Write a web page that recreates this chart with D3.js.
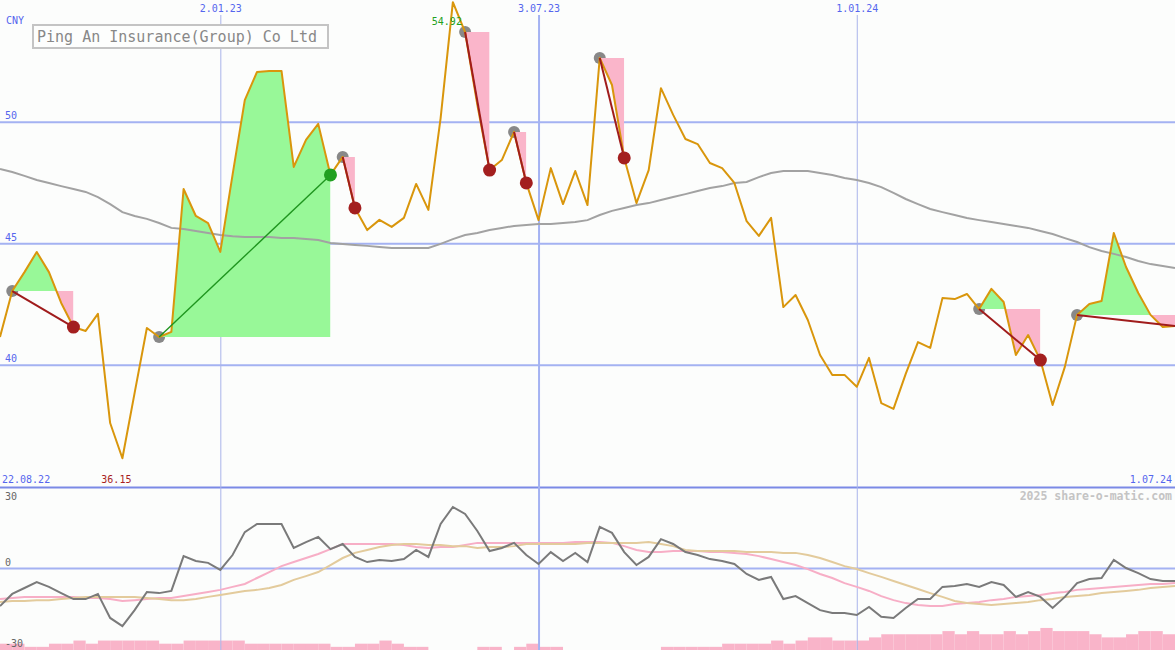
<!DOCTYPE html>
<html><head><meta charset="utf-8">
<script src="https://cdn.jsdelivr.net/npm/d3@7"></script>
<style>body{margin:0;background:#fcfdfc;}svg{display:block;}</style>
</head><body><svg id="c" width="1175" height="650"></svg>
<script>
const title = "Ping An Insurance(Group) Co Ltd";
const currency = "CNY";
const watermark = "2025 share-o-matic.com";
const dateIndex = [0, 18, 44, 70, 96];
const dateLabels = ["22.08.22", "2.01.23", "3.07.23", "1.01.24", "1.07.24"];
const priceTicks = [40, 45, 50];
const oscTicks = [30, 0, -30];

const price = [41.14,43.03,43.81,44.64,43.81,42.54,41.55,41.39,42.09,37.60,
 36.15,38.84,41.51,41.14,41.35,47.23,46.12,45.83,44.64,47.81,
 50.89,52.05,52.09,52.09,48.14,49.25,49.91,47.81,48.55,46.45,
 45.54,45.96,45.67,46.04,47.44,46.37,50.15,54.92,53.69,50.69,
 48.01,48.42,49.58,47.48,45.95,48.09,46.61,47.97,46.57,52.62,
 51.51,48.51,46.65,48.01,51.38,50.28,49.29,49.08,48.30,48.09,
 47.48,45.91,45.30,46.04,42.37,42.87,41.84,40.40,39.58,39.58,
 39.09,40.28,38.42,38.18,39.62,40.93,40.69,42.74,42.70,42.91,
 42.29,43.12,42.58,40.40,41.22,40.19,38.34,39.91,42.05,42.50,
 42.62,45.42,44.02,42.95,42.05,41.55,41.59];

const movingAvg = [48.05,47.93,47.77,47.60,47.48,47.35,47.23,47.11,46.90,46.61,
 46.28,46.12,46.00,45.83,45.63,45.58,45.50,45.42,45.34,45.29,
 45.26,45.26,45.26,45.21,45.21,45.17,45.13,45.01,44.97,44.93,
 44.89,44.84,44.80,44.80,44.80,44.80,44.97,45.17,45.34,45.42,
 45.54,45.63,45.71,45.75,45.79,45.79,45.83,45.87,45.95,46.16,
 46.33,46.45,46.57,46.65,46.78,46.90,47.02,47.15,47.27,47.35,
 47.48,47.52,47.72,47.89,47.97,47.97,47.97,47.89,47.81,47.68,
 47.60,47.48,47.31,47.07,46.82,46.61,46.41,46.28,46.16,46.04,
 45.95,45.87,45.79,45.71,45.63,45.50,45.38,45.21,45.05,44.84,
 44.68,44.56,44.43,44.27,44.14,44.06,43.98];

const oscMain = [-14.1,-9.6,-7.4,-5.2,-7.0,-9.3,-11.5,-11.5,-9.6,-18.5,
 -21.5,-15.6,-8.9,-9.3,-8.5,4.4,2.6,1.9,-0.7,4.8,
 13.3,16.3,16.3,16.3,7.4,9.6,11.5,7.0,8.9,4.1,
 2.2,3.0,2.6,3.3,6.7,4.1,16.3,22.6,20.0,13.7,
 6.3,7.4,9.3,4.8,1.5,5.9,2.6,5.6,2.2,15.2,
 13.0,5.9,1.1,4.1,10.7,8.9,5.9,4.8,3.3,2.6,
 1.5,-2.2,-4.4,-3.3,-11.5,-10.4,-13.0,-15.6,-16.7,-16.7,
 -17.4,-14.4,-18.1,-18.5,-14.8,-11.5,-11.5,-7.0,-6.7,-5.9,
 -7.0,-5.2,-6.3,-10.7,-8.9,-10.7,-14.8,-10.7,-5.6,-4.1,
 -3.7,3.0,0.0,-1.9,-4.1,-4.8,-4.8];

const oscFast = [-11.5,-11.1,-10.7,-10.7,-10.7,-10.7,-10.7,-11.1,-11.1,-11.5,
 -12.2,-11.9,-11.5,-11.1,-11.1,-10.4,-9.6,-8.9,-8.1,-7.0,
 -5.9,-3.7,-1.5,0.7,2.2,3.7,5.2,7.0,8.9,8.9,
 8.9,8.9,8.9,8.5,7.8,7.4,7.8,7.8,8.5,9.3,
 9.3,9.3,9.3,9.3,9.3,9.3,9.3,9.6,9.6,9.6,
 9.3,8.1,6.7,5.9,5.9,6.3,6.3,6.3,5.9,5.9,
 5.6,5.2,4.4,3.3,2.2,1.1,-0.4,-2.2,-3.7,-5.6,
 -7.0,-8.5,-10.4,-11.9,-13.0,-13.7,-14.1,-14.1,-13.3,-13.0,
 -12.6,-11.9,-11.5,-10.7,-10.4,-10.0,-9.3,-8.9,-8.1,-7.8,
 -7.4,-7.0,-6.7,-6.3,-5.9,-5.9,-5.6];

const oscSlow = [-12.6,-12.2,-12.2,-11.9,-11.9,-11.5,-11.1,-10.7,-10.7,-10.7,
 -10.7,-10.7,-11.1,-11.5,-11.9,-11.9,-11.5,-10.7,-10.0,-9.3,
 -8.5,-8.1,-7.4,-6.3,-4.4,-3.0,-1.5,1.1,3.7,5.6,
 6.7,7.8,8.5,8.9,8.9,8.5,8.5,8.1,8.1,7.4,
 7.8,7.8,8.1,8.9,8.9,8.9,8.9,8.9,9.3,9.3,
 9.3,9.3,9.3,9.6,8.9,8.1,6.7,6.3,6.3,6.3,
 6.3,5.9,5.9,5.9,5.6,5.6,4.8,3.7,2.2,0.7,
 -0.4,-1.9,-3.3,-4.8,-6.3,-7.8,-9.3,-10.7,-12.2,-13.0,
 -13.3,-13.7,-13.3,-13.0,-12.6,-11.9,-11.5,-10.7,-10.4,-10.0,
 -9.3,-8.9,-8.5,-8.1,-7.4,-7.0,-6.7];

const volume = [2,2,1,1,2,2,3,2,3,3,
 3,3,3,2,2,3,3,3,3,3,
 2,2,2,2,2,2,2,1,1,2,
 2,3,2,1,1,0,0,0,0,1,
 1,0,1,2,1,1,0,0,0,0,
 0,0,0,0,1,1,1,1,1,2,
 2,2,2,3,2,3,4,4,3,3,
 3,4,5,5,5,5,5,6,5,6,
 5,5,6,5,6,7,6,6,6,5,
 4,4,5,6,6,5];

const signalStart = [1, 13, 28, 38, 42, 49, 80, 88];
const signalEnd   = [6, 27, 29, 40, 43, 51, 85, 96];
const signalEndMark = [true, true, true, true, true, true, true, false];

const W = 1175, H = 650;
const mono = "DejaVu Sans Mono, monospace";
const svg = d3.select("#c");
svg.append("rect").attr("width", W).attr("height", H).attr("fill", "#fcfdfc");

const x = d3.scaleLinear().domain([0, price.length - 1]).range([0, W]);
const y = d3.scaleLinear().domain([40, 50]).range([364.7, 121.7]);
const yo = d3.scaleLinear().domain([-30, 30]).range([649, 487]);
const yv = d3.scaleLinear().domain([0, 1]).range([0, 3.15]);

// volume bars (bottom layer)
svg.append("g").selectAll("rect").data(volume).join("rect")
  .attr("x", (d, i) => x(i)).attr("width", (d, i) => x(i + 1) - x(i))
  .attr("y", d => H - yv(d)).attr("height", d => yv(d)).attr("fill", "#f9b4c9");

// horizontal grid (price)
const gy = svg.append("g").call(d3.axisRight(y).tickValues(priceTicks).tickSize(W).tickFormat(d => d));
gy.select(".domain").remove();
gy.attr("font-family", mono).attr("font-size", 10);
gy.selectAll("line").attr("stroke", "#a4b2f2").attr("stroke-width", 2);
gy.selectAll("text").attr("x", 5).attr("dy", -3).attr("text-anchor", "start").attr("fill", "#5566ee");

// lower panel grid line at 0 and separator
const go = svg.append("g").call(d3.axisRight(yo).tickValues(oscTicks).tickSize(W).tickFormat(d => d));
go.select(".domain").remove();
go.attr("font-family", mono).attr("font-size", 10);
go.selectAll("line").attr("stroke", d => d === 0 ? "#a4b2f2" : (d === 30 ? "#7b8ae6" : "none")).attr("stroke-width", 2);
go.selectAll("text").attr("x", 5).attr("dy", d => d === 30 ? 12 : -3).attr("text-anchor", "start").attr("fill", "#666");

// vertical date lines
const inner = dateIndex.slice(1, -1);
const gx = svg.append("g").attr("transform", "translate(0,15)")
  .call(d3.axisTop(x).tickValues(inner).tickSize(-(H - 15)).tickFormat(d => dateLabels[dateIndex.indexOf(d)]));
gx.select(".domain").remove();
gx.attr("font-family", mono).attr("font-size", 10);
gx.selectAll("line").attr("stroke", (d) => d === 44 ? "#a4b2f2" : "#aab4ea").attr("stroke-width", d => d === 44 ? 2 : 1);
gx.selectAll("text").attr("fill", "#5566ee").attr("y", -3);

// bottom date labels
svg.append("text").attr("x", x(dateIndex[0]) + 2).attr("y", 483).attr("font-family", mono).attr("font-size", 10)
  .attr("fill", "#5566ee").text(dateLabels[0]);
svg.append("text").attr("x", x(dateIndex[4]) - 3).attr("y", 483).attr("text-anchor", "end").attr("font-family", mono).attr("font-size", 10)
  .attr("fill", "#5566ee").text(dateLabels[4]);

// currency
svg.append("text").attr("x", 6).attr("y", 24).attr("font-family", mono).attr("font-size", 10).attr("fill", "#5566ee").text(currency);

// watermark
svg.append("text").attr("x", 1172).attr("y", 500).attr("text-anchor", "end").attr("font-family", mono)
  .attr("font-size", 11.5).attr("font-weight", "bold").attr("fill", "#c4c4c4").text(watermark);

// lower panel lines
const lo = d3.line().x((d, i) => x(i)).y(d => yo(d));
svg.append("path").datum(oscFast).attr("d", lo).attr("fill", "none").attr("stroke", "#f7aec6").attr("stroke-width", 2);
svg.append("path").datum(oscSlow).attr("d", lo).attr("fill", "none").attr("stroke", "#e3cb9c").attr("stroke-width", 2);
svg.append("path").datum(oscMain).attr("d", lo).attr("fill", "none").attr("stroke", "#7a7a7a").attr("stroke-width", 2);

// start markers (below fills)
svg.append("g").selectAll("circle").data(signalStart).join("circle")
  .attr("cx", d => x(d)).attr("cy", d => y(price[d])).attr("r", 6).attr("fill", "#888");

// fills
const defs = svg.append("defs");
signalStart.forEach((s, k) => {
  const e = signalEnd[k];
  const base = price[s];
  const idx = d3.range(s, e + 1);
  const area = d3.area().x(i => x(i)).y0(y(base)).y1(i => y(price[i]));
  defs.append("clipPath").attr("id", "gc" + k).append("rect")
    .attr("x", x(s)).attr("y", 0).attr("width", x(e) - x(s)).attr("height", y(base));
  defs.append("clipPath").attr("id", "pc" + k).append("rect")
    .attr("x", x(s)).attr("y", y(base)).attr("width", x(e) - x(s)).attr("height", 487 - y(base));
  svg.append("path").datum(idx).attr("d", area).attr("fill", "#98f898").attr("clip-path", `url(#gc${k})`);
  svg.append("path").datum(idx).attr("d", area).attr("fill", "#fab5ca").attr("clip-path", `url(#pc${k})`);
});

// moving average
const lp = d3.line().x((d, i) => x(i)).y(d => y(d));
svg.append("path").datum(movingAvg).attr("d", lp).attr("fill", "none").attr("stroke", "#a2a2a2").attr("stroke-width", 2);

// price
svg.append("path").datum(price).attr("d", lp).attr("fill", "none").attr("stroke", "#d9960c").attr("stroke-width", 2).attr("stroke-linejoin", "round");

// signal lines and end markers
signalStart.forEach((s, k) => {
  const e = signalEnd[k];
  const gain = price[e] > price[s];
  svg.append("line").attr("x1", x(s)).attr("y1", y(price[s])).attr("x2", x(e)).attr("y2", y(price[e]))
    .attr("stroke", gain ? "#1f951f" : "#a01c1c").attr("stroke-width", gain ? 1.4 : 2);
  if (signalEndMark[k]) {
    svg.append("circle").attr("cx", x(e)).attr("cy", y(price[e])).attr("r", 6.5).attr("fill", gain ? "#22a022" : "#a31f1f");
  }
});

// max / min labels
const maxI = d3.maxIndex(price), minI = d3.minIndex(price);
svg.append("text").attr("x", x(maxI) - 6).attr("y", 25).attr("text-anchor", "middle").attr("font-family", mono).attr("font-size", 10)
  .attr("fill", "#22a022").text(price[maxI].toFixed(2));
svg.append("text").attr("x", x(minI) - 6).attr("y", 483).attr("text-anchor", "middle").attr("font-family", mono).attr("font-size", 10)
  .attr("fill", "#a81e1e").text(price[minI].toFixed(2));

// title box
svg.append("rect").attr("x", 33).attr("y", 25).attr("width", 295).attr("height", 23)
  .attr("fill", "#fdfefd").attr("stroke", "#c4c4c4").attr("stroke-width", 2);
svg.append("text").attr("x", 37).attr("y", 42).attr("font-family", mono).attr("font-size", 15)
  .attr("fill", "#888").text(title);
</script></body></html>
